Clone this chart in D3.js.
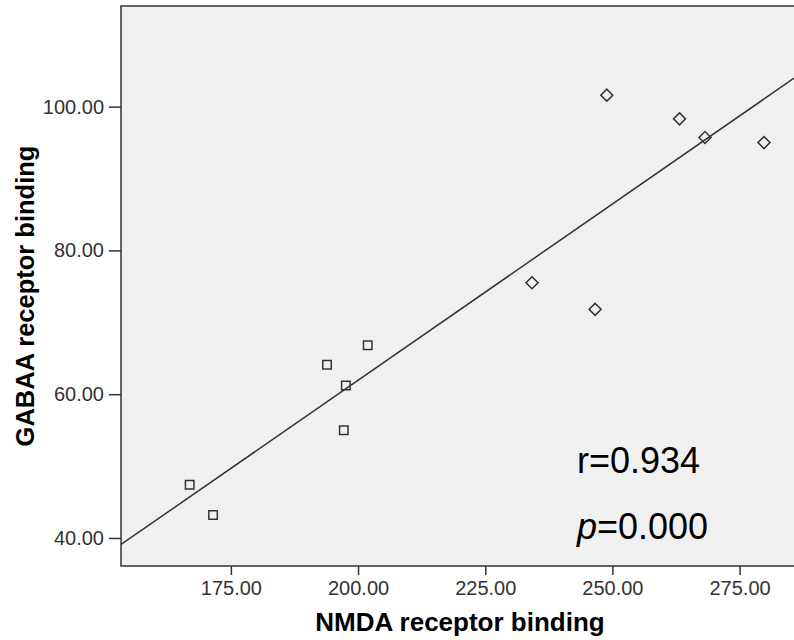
<!DOCTYPE html>
<html>
<head>
<meta charset="utf-8">
<script src="https://cdn.jsdelivr.net/npm/d3@7"></script>
<style>
    body { margin: 0; background: #fff; }
    svg { display: block; font-family: "Liberation Sans", Arial, sans-serif; }
</style>
</head>
<body>
<svg id="chart" width="794" height="640"></svg>
<script>
// group 1 (squares)
const squareX = [166.9, 171.5, 193.9, 197.6, 197.2, 201.9];
const squareY = [47.4, 43.2, 64.1, 61.2, 55.0, 66.8];
// group 2 (diamonds)
const diamondX = [248.9, 263.2, 268.2, 279.8, 234.2, 246.6];
const diamondY = [101.6, 98.3, 95.7, 95.0, 75.5, 71.8];

const xTicks = [175, 200, 225, 250, 275];
const yTicks = [40, 60, 80, 100];

const width = 794;
const height = 640;
const plot = { left: 121, top: 6, right: 794, bottom: 566 };

const svg = d3.select("#chart");

const xScale = d3.scaleLinear()
    .domain([153.4, 285.7])
    .range([plot.left, plot.right]);

const yScale = d3.scaleLinear()
    .domain([36.1, 114.0])
    .range([plot.bottom, plot.top]);

// plot background + frame (right side runs off the picture)
svg.append("rect")
    .attr("x", plot.left)
    .attr("y", plot.top)
    .attr("width", plot.right - plot.left + 20)
    .attr("height", plot.bottom - plot.top)
    .attr("fill", "#f0f0f0")
    .attr("stroke", "#333")
    .attr("stroke-width", 1.5);

// axes
const xAxis = svg.append("g")
    .attr("transform", `translate(0, ${plot.bottom})`)
    .call(d3.axisBottom(xScale).tickValues(xTicks).tickFormat(d3.format(".2f")).tickSize(9).tickPadding(6));

const yAxis = svg.append("g")
    .attr("transform", `translate(${plot.left}, 0)`)
    .call(d3.axisLeft(yScale).tickValues(yTicks).tickFormat(d3.format(".2f")).tickSize(12).tickPadding(5));

[xAxis, yAxis].forEach(function (ax) {
    ax.select(".domain").remove();
    ax.selectAll(".tick line").attr("stroke", "#333").attr("stroke-width", 1.5);
    ax.selectAll(".tick text")
        .attr("fill", "#333")
        .style("font-size", "20px")
        .style("font-family", "'Liberation Sans', Arial, sans-serif");
});

// least squares fit line over all points
const allX = squareX.concat(diamondX);
const allY = squareY.concat(diamondY);
const mx = d3.mean(allX);
const my = d3.mean(allY);
let sxy = 0, sxx = 0;
for (let i = 0; i < allX.length; i++) {
    sxy += (allX[i] - mx) * (allY[i] - my);
    sxx += (allX[i] - mx) * (allX[i] - mx);
}
const slope = sxy / sxx;
const intercept = my - slope * mx;
const lineX = xScale.domain();

svg.append("clipPath").attr("id", "plot-clip")
    .append("rect")
    .attr("x", plot.left)
    .attr("y", plot.top)
    .attr("width", plot.right - plot.left + 20)
    .attr("height", plot.bottom - plot.top);

svg.append("path")
    .datum(lineX.map(function (x) { return [x, intercept + slope * x]; }))
    .attr("clip-path", "url(#plot-clip)")
    .attr("fill", "none")
    .attr("stroke", "#333")
    .attr("stroke-width", 1.5)
    .attr("d", d3.line()
        .x(function (d) { return xScale(d[0]); })
        .y(function (d) { return yScale(d[1]); })
    );

// markers
const squares = squareX.map(function (x, i) { return { x: x, y: squareY[i] }; });
const diamonds = diamondX.map(function (x, i) { return { x: x, y: diamondY[i] }; });

svg.selectAll(".sq")
    .data(squares)
    .join("path")
    .attr("class", "sq")
    .attr("transform", function (d) { return `translate(${xScale(d.x)}, ${yScale(d.y)})`; })
    .attr("d", d3.symbol().type(d3.symbolSquare).size(72))
    .attr("fill", "none")
    .attr("stroke", "#333")
    .attr("stroke-width", 1.5);

svg.selectAll(".dm")
    .data(diamonds)
    .join("path")
    .attr("class", "dm")
    .attr("transform", function (d) { return `translate(${xScale(d.x)}, ${yScale(d.y)}) rotate(45)`; })
    .attr("d", d3.symbol().type(d3.symbolSquare).size(72))
    .attr("fill", "none")
    .attr("stroke", "#333")
    .attr("stroke-width", 1.5);

// axis titles
svg.append("text")
    .attr("x", 460)
    .attr("y", 631)
    .attr("text-anchor", "middle")
    .style("font-size", "26px")
    .style("font-weight", "bold")
    .attr("fill", "#000")
    .text("NMDA receptor binding");

svg.append("text")
    .attr("transform", "translate(34, 296) rotate(-90)")
    .attr("text-anchor", "middle")
    .style("font-size", "25.5px")
    .style("font-weight", "bold")
    .attr("fill", "#000")
    .text("GABAA receptor binding");

// annotation
svg.append("text")
    .attr("x", 577)
    .attr("y", 473)
    .style("font-size", "36px")
    .attr("fill", "#000")
    .text("r=0.934");

const pText = svg.append("text")
    .attr("x", 577)
    .attr("y", 539)
    .style("font-size", "36px")
    .attr("fill", "#000");
pText.append("tspan").style("font-style", "italic").text("p");
pText.append("tspan").text("=0.000");
</script>
</body>
</html>
